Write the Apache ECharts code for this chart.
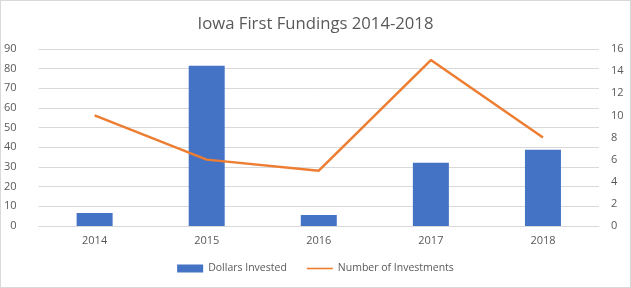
<!DOCTYPE html>
<html><head><meta charset="utf-8">
<script src="https://cdn.jsdelivr.net/npm/echarts@6/dist/echarts.min.js"></script>
<style>html,body{margin:0;padding:0;background:#fff}#c{width:631px;height:288px;box-sizing:border-box;border:1px solid #d9d9d9}</style>
</head><body><div id="c"></div>
<script>
const categories = ['2014','2015','2016','2017','2018'];
const dollarsInvested = [6.6, 81.5, 5.6, 32.2, 38.8];
const numberOfInvestments = [10, 6, 5, 15, 8];
const chart = echarts.init(document.getElementById('c'), null, {renderer:'canvas'});
const txt = '#595959', font = "'Open Sans', 'Noto Sans', sans-serif";
chart.setOption({
  animation:false,
  title:{text:'Iowa First Fundings 2014-2018', left:'center', top:10,
    textStyle:{color:txt, fontSize:16.7, fontWeight:'normal', fontFamily:font}},
  grid:{left:30, right:31, top:48, bottom:61, containLabel:false},
  legend:{bottom:8, left:'center', itemGap:20, itemWidth:26, itemHeight:8,
    textStyle:{color:txt, fontSize:10.5, fontFamily:font},
    data:[{name:'Dollars Invested', icon:'rect'},{name:'Number of Investments', icon:'path://M0,3.2H26V4.8H0Z'}]},
  xAxis:{type:'category', data:categories,
    axisLine:{lineStyle:{color:'#d9d9d9'}}, axisTick:{show:false},
    axisLabel:{color:txt, fontSize:11, fontFamily:font, margin:9}},
  yAxis:[
    {type:'value', min:0, max:90, interval:10,
     axisLabel:{color:txt, fontSize:11, fontFamily:font, margin:22},
     splitLine:{lineStyle:{color:'#d9d9d9'}}, axisLine:{show:false}, axisTick:{show:false}},
    {type:'value', min:0, max:16, interval:2, position:'right',
     axisLabel:{color:txt, fontSize:11, fontFamily:font, margin:12},
     splitLine:{show:false}, axisLine:{show:false}, axisTick:{show:false}}
  ],
  series:[
    {name:'Dollars Invested', type:'bar', data:dollarsInvested, barWidth:36,
     itemStyle:{color:'#4472c4'}},
    {name:'Number of Investments', type:'line', yAxisIndex:1, data:numberOfInvestments,
     symbol:'none', lineStyle:{color:'#ed7d31', width:2.5}, itemStyle:{color:'#ed7d31'}}
  ]
});
</script></body></html>
